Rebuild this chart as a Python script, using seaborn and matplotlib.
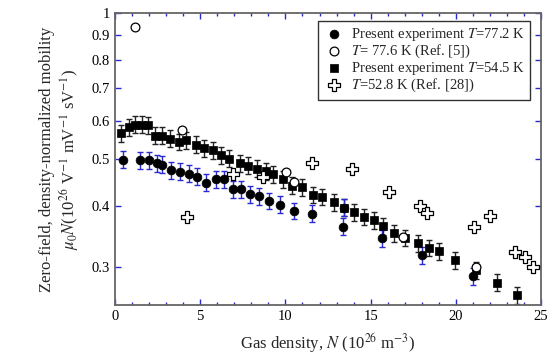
import numpy as np
import pandas as pd
import seaborn as sns
import matplotlib.pyplot as plt
from matplotlib.ticker import FixedLocator, FixedFormatter, MultipleLocator

# Present experiment T=77.2 K (filled circles)
n_772 = [0.49, 1.47, 2.0, 2.45, 2.78, 3.29, 3.81, 4.34, 4.83, 5.34, 5.91, 6.40, 6.91,
         7.39, 7.92, 8.47, 9.06, 9.70, 10.5, 11.54, 13.36, 13.46, 15.69, 18.03, 21.0]
mu_772 = [0.499, 0.498, 0.497, 0.491, 0.487, 0.475, 0.471, 0.467, 0.460, 0.447, 0.454, 0.454, 0.433,
          0.433, 0.423, 0.419, 0.410, 0.403, 0.391, 0.386, 0.363, 0.397, 0.343, 0.317, 0.287]

# T=77.6 K (Ref. [5]) (open circles)
n_776 = [1.17, 3.95, 10.04, 10.5, 16.92, 21.19]
mu_776 = [0.938, 0.573, 0.470, 0.449, 0.345, 0.299]

# Present experiment T=54.5 K (filled squares)
n_545 = [0.35, 0.82, 1.17, 1.57, 1.96, 2.35, 2.74, 3.23, 3.75, 4.15, 4.74, 5.24, 5.77, 6.22,
         6.71, 7.34, 7.82, 8.35, 8.86, 9.25, 9.84, 10.37, 11.0, 11.64, 12.17, 12.87, 13.46,
         14.03, 14.63, 15.2, 15.75, 16.39, 17.04, 17.8, 18.43, 18.99, 19.95, 21.19, 22.4, 23.57]
mu_545 = [0.566, 0.582, 0.589, 0.589, 0.587, 0.559, 0.559, 0.551, 0.543, 0.547, 0.536, 0.526, 0.521, 0.509,
          0.501, 0.490, 0.485, 0.478, 0.472, 0.465, 0.454, 0.441, 0.438, 0.422, 0.418, 0.407, 0.397,
          0.389, 0.380, 0.374, 0.364, 0.352, 0.344, 0.335, 0.328, 0.323, 0.309, 0.295, 0.278, 0.262]

# T=52.8 K (Ref. [28]) (open crosses)
n_528 = [4.24, 6.91, 8.67, 11.54, 13.89, 16.08, 17.9, 18.29, 21.07, 22.0, 23.47, 24.06, 24.51]
mu_528 = [0.380, 0.467, 0.459, 0.491, 0.476, 0.427, 0.401, 0.388, 0.362, 0.381, 0.321, 0.314, 0.2995]

rel_err = 0.04  # error bars, fraction of value

y_ticks = [0.3, 0.4, 0.5, 0.6, 0.7, 0.8, 0.9, 1.0]
y_tick_labels = ['0.3', '0.4', '0.5', '0.6', '0.7', '0.8', '0.9', '1']

df_772 = pd.DataFrame({'N': n_772, 'mu': mu_772})
df_776 = pd.DataFrame({'N': n_776, 'mu': mu_776})
df_545 = pd.DataFrame({'N': n_545, 'mu': mu_545})
df_528 = pd.DataFrame({'N': n_528, 'mu': mu_528})

sns.set_theme(style='ticks')
plt.rcParams['font.family'] = ['Liberation Serif', 'DejaVu Serif']
plt.rcParams['mathtext.fontset'] = 'stix'

fig = plt.figure(figsize=(5.49, 3.57), dpi=100)
ax = fig.add_axes([0.2095, 0.1457, 0.776, 0.817])

tick_blue = '#2a2ad0'

# error bars
ax.errorbar(df_545['N'], df_545['mu'], yerr=df_545['mu'] * rel_err, fmt='none',
            ecolor='#222222', elinewidth=1.0, capsize=2.2, capthick=1.0, zorder=2)
ax.errorbar(df_772['N'], df_772['mu'], yerr=df_772['mu'] * rel_err, fmt='none',
            ecolor=tick_blue, elinewidth=1.0, capsize=2.2, capthick=1.0, zorder=2)

sns.scatterplot(data=df_772, x='N', y='mu', ax=ax, marker='o', s=40, color='black',
                edgecolor='black', linewidth=0.5, zorder=3,
                label=r'Present experiment $T$=77.2 K')
sns.scatterplot(data=df_776, x='N', y='mu', ax=ax, marker='o', s=40, facecolor='white',
                edgecolor='black', linewidth=0.9, zorder=4,
                label=r'$T$= 77.6 K (Ref. [5])')
sns.scatterplot(data=df_545, x='N', y='mu', ax=ax, marker='s', s=36, color='black',
                edgecolor='black', linewidth=0.5, zorder=3,
                label=r'Present experiment $T$=54.5 K')
sns.scatterplot(data=df_528, x='N', y='mu', ax=ax, marker='P', s=75, facecolor='white',
                edgecolor='black', linewidth=0.9, zorder=5,
                label=r'$T$=52.8 K (Ref. [28])')

ax.set_yscale('log')
ax.set_xlim(0, 25)
ax.set_ylim(0.25, 1.0)
ax.yaxis.set_major_locator(FixedLocator(y_ticks))
ax.yaxis.set_major_formatter(FixedFormatter(y_tick_labels))
ax.yaxis.set_minor_locator(FixedLocator([]))
ax.xaxis.set_major_locator(MultipleLocator(5))
ax.xaxis.set_minor_locator(MultipleLocator(1))

ax.tick_params(which='both', direction='in', top=True, right=True, colors=tick_blue,
               labelcolor='black', labelsize=10.5)
ax.tick_params(which='major', length=4, width=1)
ax.tick_params(which='minor', length=2.5, width=1)
for sp in ax.spines.values():
    sp.set_color('#666666')
    sp.set_linewidth(1.3)

ax.set_xlabel(r'Gas density, $N$ (10$^{26}$ m$^{-3}$)', fontsize=12, labelpad=6)
ax.set_ylabel('Zero-field, density-normalized mobility\n'
              r'$\mu_0 N$(10$^{26}$ V$^{-1}$ mV$^{-1}$ sV$^{-1}$)', fontsize=12, labelpad=8,
              linespacing=1.1)

leg = ax.legend(loc='upper right', bbox_to_anchor=(0.975, 0.975), borderaxespad=0,
                fontsize=10.5, frameon=True, fancybox=False, handletextpad=0.5,
                labelspacing=0.0, borderpad=0.35, handlelength=1.4)
leg.get_frame().set_edgecolor('black')
leg.get_frame().set_linewidth(1.0)

fig.savefig('out.png', dpi=100)
